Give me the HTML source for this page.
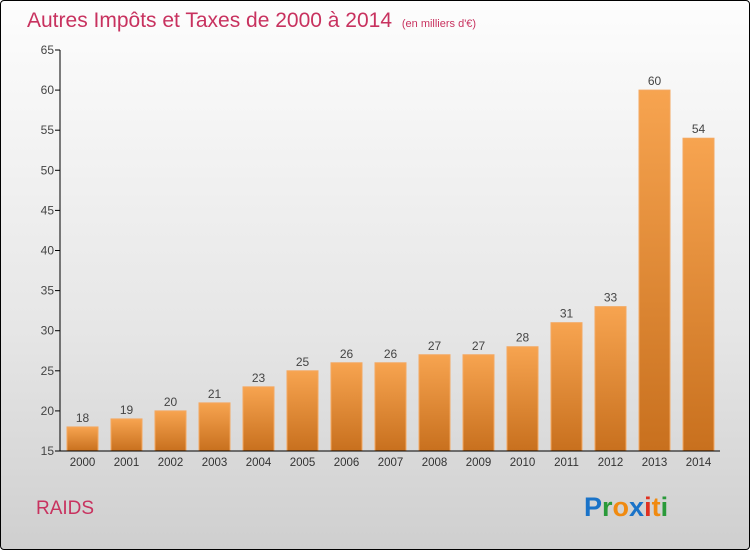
<!DOCTYPE html>
<html><head><meta charset="utf-8"><style>
html,body{margin:0;padding:0}
body{width:750px;height:550px;overflow:hidden;font-family:"Liberation Sans",sans-serif}
#wrap{position:absolute;left:0;top:0;width:748px;height:548px;border:1px solid #000;border-radius:4px;background:linear-gradient(#fdfdfd,#e6e6e6 60%,#cfcfcf)}
</style></head><body>
<div id="wrap"></div>
<svg id="c" width="750" height="550" style="position:absolute;left:0;top:0">
<defs><linearGradient id="bg" x1="0" y1="0" x2="0" y2="1"><stop offset="0" stop-color="#f7a450"/><stop offset="1" stop-color="#c8701e"/></linearGradient></defs>
<text x="27" y="27" font-size="21" fill="#c8325f">Autres Impôts et Taxes de 2000 à 2014 <tspan font-size="11" dx="4">(en milliers d'€)</tspan></text>
<text x="36" y="514" font-size="19" fill="#c8325f">RAIDS</text>
<text x="584" y="516" font-size="27" font-weight="bold"><tspan fill="#1a73c8">P</tspan><tspan fill="#2a9a3a">r</tspan><tspan fill="#f08a10">o</tspan><tspan fill="#1a73c8">x</tspan><tspan fill="#e03020">i</tspan><tspan fill="#f08a10">t</tspan><tspan fill="#2a9a3a">i</tspan></text>
<g id="g"></g>
</svg>
<script>
const years=["2000","2001","2002","2003","2004","2005","2006","2007","2008","2009","2010","2011","2012","2013","2014"];
const values=[18,19,20,21,23,25,26,26,27,27,28,31,33,60,54];
const ticks=[15,20,25,30,35,40,45,50,55,60,65];
const NS="http://www.w3.org/2000/svg",g=document.getElementById('g');
const y=v=>451-(v-15)*(401/50);
const xc=i=>82.5+i*44;
function mk(t,a){const e=document.createElementNS(NS,t);for(const k in a)e.setAttribute(k,a[k]);g.appendChild(e);return e;}
ticks.forEach(t=>{
 const l=mk('line',{x1:55,x2:60,y1:y(t),y2:y(t),stroke:'#000'});
 
 
 const tx=mk('text',{x:54,y:y(t)+4,'font-size':12,fill:'#444','text-anchor':'end'});tx.textContent=t;
 
 
});
years.forEach((yr,i)=>{
 const b=mk('rect',{x:xc(i)-15.5,y:y(values[i]),width:31,height:451-y(values[i]),fill:'url(#bg)',stroke:'#f4a860','stroke-width':1});
 
 
 const v=mk('text',{x:xc(i),y:y(values[i])-5,'font-size':12,fill:'#444','text-anchor':'middle'});v.textContent=values[i];
 
 
 const xl=mk('text',{x:xc(i),y:466,'font-size':11.5,fill:'#333','text-anchor':'middle'});xl.textContent=yr;
 
 
});
const ya=mk('line',{x1:60,x2:60,y1:50,y2:451,stroke:'#000'});


const xa=mk('line',{x1:60,x2:720,y1:451,y2:451,stroke:'#000'});


</script>
</body></html>
